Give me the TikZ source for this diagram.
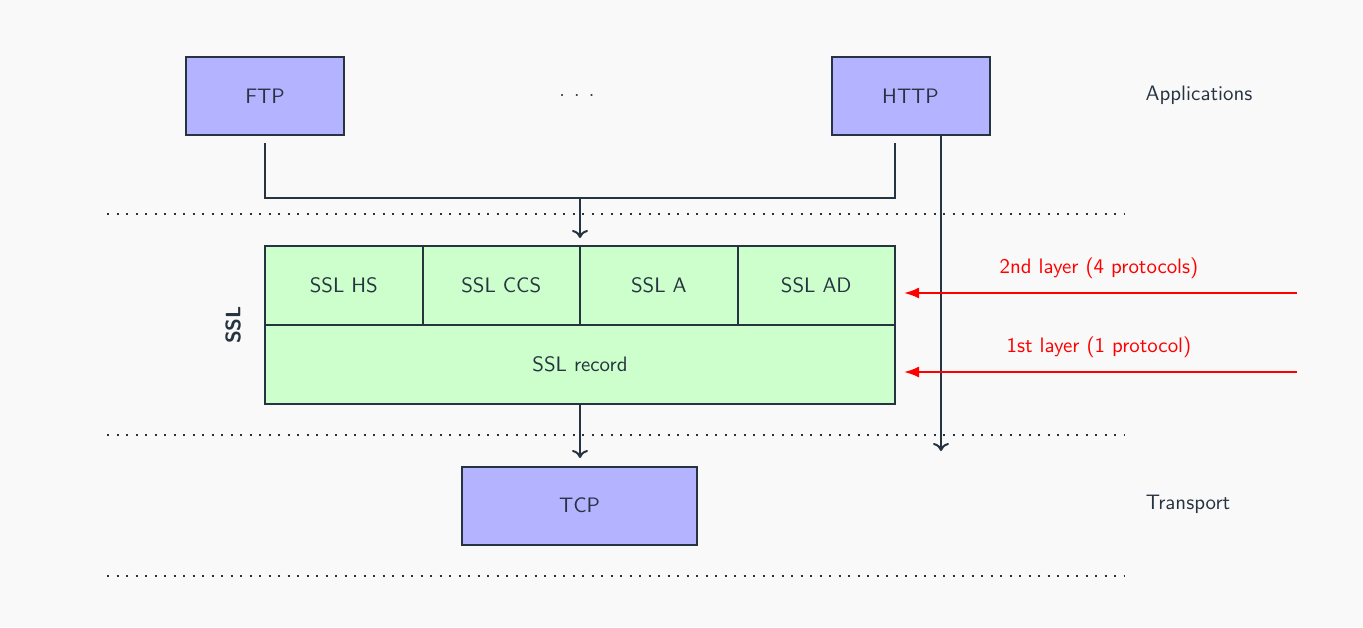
\documentclass[tikz,border=0pt]{standalone}
\usetikzlibrary{arrows.meta}
\definecolor{ink}{HTML}{263340}
\definecolor{bg}{HTML}{F9F9F9}
\definecolor{bluefill}{HTML}{B3B3FF}
\definecolor{greenfill}{HTML}{CCFFCC}
\begin{document}
\begin{tikzpicture}[x=0.5pt,y=-0.5pt,font=\sffamily\fontsize{10.45}{12.5}\selectfont,
  every node/.style={text=ink},
  appbox/.style={draw=ink,line width=1pt,fill=bluefill,minimum width=79pt,minimum height=39pt,inner sep=0pt},
  sslcell/.style={draw=ink,line width=1pt,fill=greenfill,minimum width=78.75pt,minimum height=39.5pt,inner sep=0pt},
  conn/.style={draw=ink,line width=1pt},
  sep/.style={draw=ink,line width=1.2pt,dash pattern=on 1.2pt off 3.55pt},
  redarrow/.style={draw=red,line width=1pt,-{Latex[length=7.5pt,width=5.5pt]}},
  redlabel/.style={text=red}]
\fill[bg] (0,0) rectangle (1363,627);
\useasboundingbox (0,0) rectangle (1363,627);
% applications
\node[appbox] (ftp) at (265,96) {FTP};
\node[appbox] (http) at (910.5,96) {HTTP};
\node (dots) at (577,96) {$\cdot$\hspace{4.6pt}$\cdot$\hspace{4.6pt}$\cdot$};
\node (apps) at (1199,95) {Applications};
\node (trans) at (1188,504) {Transport};
% separators
\coordinate (s1a) at (107,214); \coordinate (s1b) at (1125,214);
\coordinate (s2a) at (107,435); \coordinate (s2b) at (1125,435);
\coordinate (s3a) at (107,576); \coordinate (s3b) at (1125,576);
\draw[sep] (s1a) -- (s1b);
\draw[sep] (s2a) -- (s2b);
\draw[sep] (s3a) -- (s3b);
% SSL block
\node[sslcell] (hs) at (343.75,285.5) {SSL HS};
\node[sslcell] (ccs) at (501.25,285.5) {SSL CCS};
\node[sslcell] (a) at (658.75,285.5) {SSL A};
\node[sslcell] (ad) at (816.25,285.5) {SSL AD};
\node[draw=ink,line width=1pt,fill=greenfill,minimum width=315pt,minimum height=39.5pt,inner sep=0pt] (rec) at (580,364.5) {SSL record};
\node[rotate=90,font=\sffamily\bfseries\fontsize{10.45}{12.5}\selectfont] (ssl) at (233,325) {SSL};
% TCP
\node[appbox,minimum width=117.5pt] (tcp) at (579.5,505.5) {TCP};
% connectors
\coordinate (ftpd) at (265,143);
\coordinate (httpd) at (895,143);
\coordinate (j1) at (265,198);
\coordinate (j2) at (895,198);
\coordinate (jm) at (580,198);
\coordinate (sslin) at (580,238);
\draw[conn] (ftpd) -- (j1) -- (j2) -- (httpd);
\draw[conn,-{To[length=4pt,width=8pt]}] (jm) -- (sslin);
\coordinate (tcpin) at (580,458);
\draw[conn,-{To[length=4pt,width=8pt]}] (rec.south) -- (tcpin);
\coordinate (httpo) at (941,135);
\coordinate (httpend) at (941,451);
\draw[conn,-{To[length=4pt,width=8pt]}] (httpo) -- (httpend);
% red arrows
\coordinate (r2s) at (1297,293); \coordinate (r2e) at (904,293);
\coordinate (r1s) at (1297,372); \coordinate (r1e) at (904,372);
\draw[redarrow] (r2s) -- (r2e);
\draw[redarrow] (r1s) -- (r1e);
\node[redlabel] (l2) at (1099,268) {2nd layer (4 protocols)};
\node[redlabel] (l1) at (1099,347) {1st layer (1 protocol)};
\end{tikzpicture}
\end{document}
